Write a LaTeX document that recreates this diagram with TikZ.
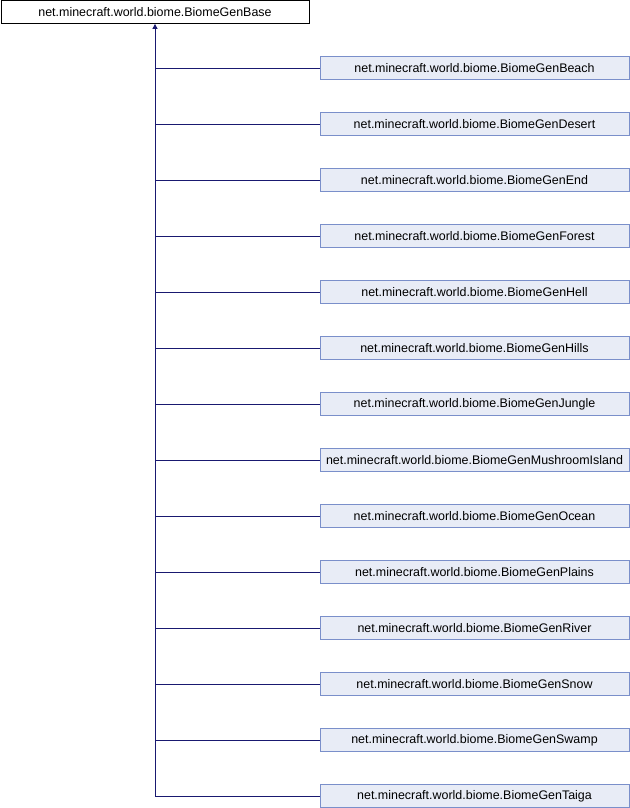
\documentclass[tikz,border=0pt]{standalone}
\usepackage{fontspec}
\setmainfont{Liberation Sans}
\usetikzlibrary{arrows.meta}
\definecolor{edgeblue}{RGB}{25,25,112}
\definecolor{boxfill}{RGB}{232,236,246}
\definecolor{boxline}{RGB}{122,143,202}
\begin{document}
\begin{tikzpicture}[x=1bp,y=-1bp,
  base/.style={draw=black, fill=white, line width=0.8bp, minimum width=308bp, minimum height=23bp, inner sep=0pt, font=\fontsize{12.5}{14}\selectfont},
  child/.style={draw=boxline, fill=boxfill, line width=0.8bp, minimum width=309bp, minimum height=23bp, inner sep=0pt, font=\fontsize{12.5}{14}\selectfont},
  link/.style={draw=edgeblue, line width=0.9bp}]
\useasboundingbox (0,0) rectangle (630,808);
\node[base] (base) at (155,12) {net.minecraft.world.biome.BiomeGenBase};
\foreach \n [count=\i from 0] in {Beach,Desert,End,Forest,Hell,Hills,Jungle,MushroomIsland,Ocean,Plains,River,Snow,Swamp,Taiga} {
  \node[child] (c\n) at (474.5,68+56*\i) {net.minecraft.world.biome.BiomeGen\n};
  \coordinate (j\n) at (155,68+56*\i);
  \draw[link] (j\n) -- (c\n.west);
}
\draw[link, -{Triangle[open, width=5bp, length=5bp, fill=edgeblue]}] (jTaiga) -- (base.south);
\end{tikzpicture}
\end{document}
